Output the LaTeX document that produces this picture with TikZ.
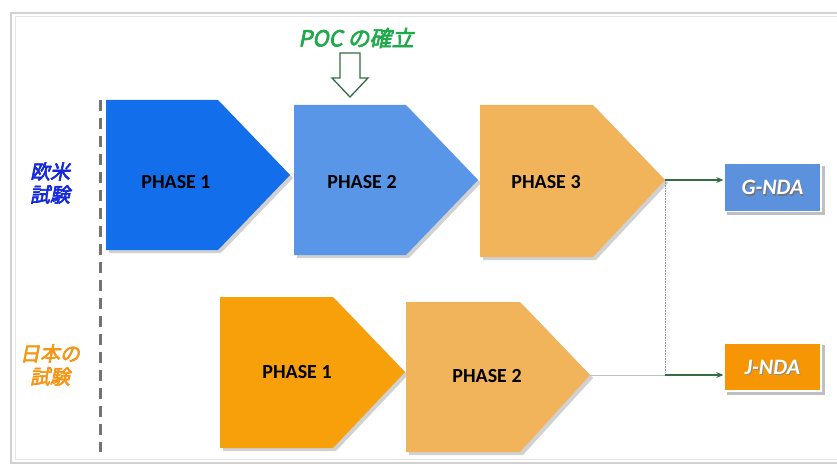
\documentclass[tikz,border=0pt]{standalone}
\usepackage{fontspec}
\setmainfont{Carlito}
\newfontfamily\jpfont[FakeSlant=0.2,FakeBold=3]{Noto Sans CJK JP}
\newfontfamily\phfont{Carlito}
\usetikzlibrary{arrows.meta}
\definecolor{blueA}{RGB}{18,110,235}
\definecolor{blueB}{RGB}{90,150,232}
\definecolor{orangeA}{RGB}{248,160,10}
\definecolor{orangeB}{RGB}{241,180,90}
\definecolor{gblue}{RGB}{92,145,222}
\definecolor{jorange}{RGB}{247,150,5}
\definecolor{darkgreen}{RGB}{50,110,65}
\definecolor{pocgreen}{RGB}{30,170,75}
\definecolor{jpblue}{RGB}{20,40,220}
\definecolor{jporange}{RGB}{245,150,20}
\tikzset{
  phasetxt/.style={font=\phfont\bfseries\fontsize{20}{22}\selectfont, text=black},
  ndabox/.style={minimum width=97pt, minimum height=48pt, inner sep=0pt, draw=white, line width=1.5pt},
  ndatxt/.style={font=\phfont\bfseries\itshape\fontsize{22}{24}\selectfont},
  shadowed/.style={fill=black, opacity=0.18},
  conn/.style={draw=darkgreen, line width=1.2pt, -{Stealth[length=7pt,width=6pt]}},
  jplabel/.style={font=\jpfont\fontsize{20}{23}\selectfont, align=center},
}
\begin{document}
\begin{tikzpicture}[x=1pt,y=-1pt]
\useasboundingbox (0,0) rectangle (837,468);
\fill[white] (0,0) rectangle (837,468);
% frame
\draw[black!18, line width=2pt] (11,13) rectangle (850,463);
\draw[black!10, line width=1pt] (15,17) rectangle (850,459);
% dashed separator
\draw[black!55, line width=3pt, dash pattern=on 11pt off 7pt] (100,100) -- (100,452);
% upper row shapes
\fill[shadowed] (109,103) -- (221,103) -- (293,178) -- (221,253) -- (109,253) -- cycle;
\fill[blueA] (106,100) -- (218,100) -- (290,175) -- (218,250) -- (106,250) -- cycle;
\fill[shadowed] (297,108) -- (409,108) -- (481,183) -- (409,258) -- (297,258) -- cycle;
\fill[blueB] (294,105) -- (406,105) -- (478,180) -- (406,255) -- (294,255) -- cycle;
\fill[shadowed] (483,108) -- (596,108) -- (668,183) -- (596,260) -- (483,260) -- cycle;
\fill[orangeB] (480,105) -- (593,105) -- (665,180) -- (593,257) -- (480,257) -- cycle;
\coordinate (p3tip) at (665,180);
\node[phasetxt] (u1) at (176,182) {PHASE 1};
\node[phasetxt] (u2) at (362,182) {PHASE 2};
\node[phasetxt] (u3) at (546,182) {PHASE 3};
% lower row shapes
\fill[shadowed] (223,300) -- (336,300) -- (408,375) -- (336,451) -- (223,451) -- cycle;
\fill[orangeA] (220,297) -- (333,297) -- (405,372) -- (333,448) -- (220,448) -- cycle;
\fill[shadowed] (409,305) -- (523,305) -- (593,378) -- (523,455) -- (409,455) -- cycle;
\fill[orangeB] (406,302) -- (520,302) -- (590,375) -- (520,452) -- (406,452) -- cycle;
\coordinate (l2tip) at (590,375);
\node[phasetxt] (l1) at (297,372) {PHASE 1};
\node[phasetxt] (l2) at (487,376) {PHASE 2};
% NDA boxes
\fill[black!25] (727,166) rectangle (825,215);
\node[ndabox, fill=gblue] (gnda) at (772.5,187.5) {};
\node[ndatxt, text=black!55] at (773.5,189) {G-NDA};
\node[ndatxt, text=white] (gtxt) at (772.5,187.5) {G-NDA};
\fill[black!25] (727,345) rectangle (825,395);
\node[ndabox, fill=jorange] (jnda) at (772.5,367) {};
\node[ndatxt, text=black!45] at (773.5,368.5) {J-NDA};
\node[ndatxt, text=white] (jtxt) at (772.5,367) {J-NDA};
% connectors
\coordinate (junc) at (665,375);
\draw[black!40, line width=0.6pt, densely dotted] (p3tip) -- (junc);
\draw[black!25, line width=0.8pt] (l2tip) -- (junc);
\draw[conn] (p3tip) -- (gnda.west |- p3tip);
\draw[conn] (junc) -- (jnda.west |- junc);
% side labels
\node[jplabel, text=jpblue] (eu) at (50,183) {欧米\\試験};
\node[jplabel, text=jporange] (jp) at (50,365) {日本の\\試験};
% POC label and hollow arrow
\node[font=\jpfont\fontsize{22}{24}\selectfont, text=pocgreen] (poc) at (356,38) {POC の確立};
\draw[darkgreen, line width=1.3pt, fill=white, line join=miter]
  (340,53) -- (360,53) -- (360,78) -- (368,78) -- (350,97) -- (332,78) -- (340,78) -- cycle;
\end{tikzpicture}
\end{document}
